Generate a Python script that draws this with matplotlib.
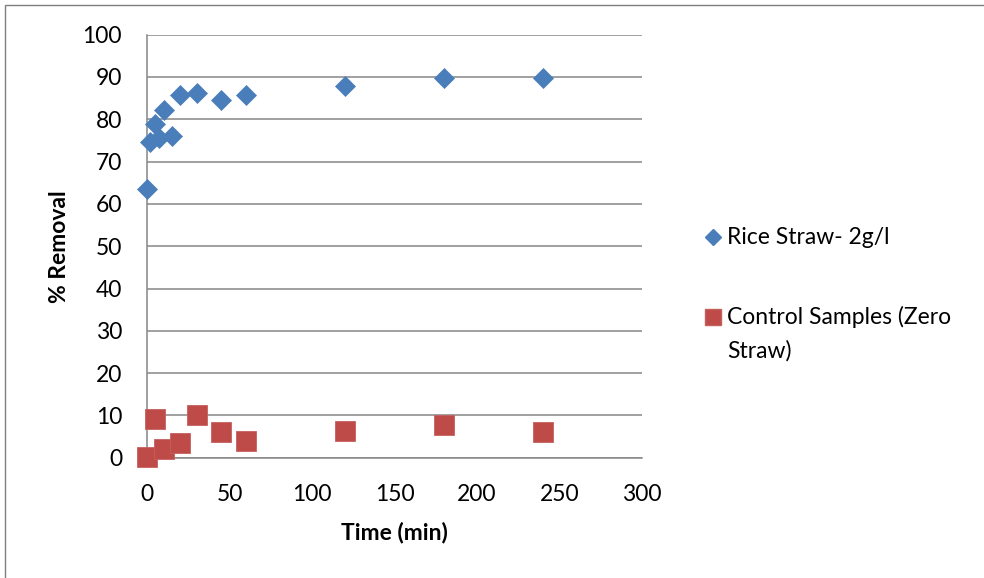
import matplotlib
matplotlib.use("Agg")
import matplotlib.pyplot as plt
from matplotlib.lines import Line2D
from matplotlib.patches import Rectangle

plt.rcParams['font.family'] = ['Lato', 'DejaVu Sans']

# Removal over contact time
rice_time = [0, 2, 5, 7, 10, 15, 20, 30, 45, 60, 120, 180, 240]
rice_removal = [63.5, 74.6, 78.9, 75.5, 82.2, 76.0, 85.7, 86.3, 84.6, 85.8, 87.9, 89.8, 89.8]

control_time = [0, 5, 10, 20, 30, 45, 60, 120, 180, 240]
control_removal = [0.2, 9.1, 2.1, 3.4, 10.0, 6.0, 3.9, 6.2, 7.7, 6.0]

x_ticks = [0, 50, 100, 150, 200, 250, 300]
y_ticks = [0, 10, 20, 30, 40, 50, 60, 70, 80, 90, 100]

blue = '#4A7EBB'
red = '#BE4B48'
grid = '#868686'
FS = 16.5

W, H = 984, 578
fig = plt.figure(figsize=(W / 100, H / 100), dpi=100)
ax = fig.add_axes([147 / W, 1 - 457.7 / H, (642 - 147) / W, (457.7 - 34.7) / H])

ax.set_xlim(0, 300)
ax.set_ylim(0, 100)
ax.set_xticks(x_ticks)
ax.set_yticks(y_ticks)
ax.tick_params(length=0, labelsize=FS, colors='black')
ax.tick_params(axis='y', pad=18)
ax.tick_params(axis='x', pad=19)

ax.yaxis.grid(True, color=grid, linewidth=1.1)
ax.set_axisbelow(True)
for side in ['top', 'right']:
    ax.spines[side].set_visible(False)
for side in ['left', 'bottom']:
    ax.spines[side].set_color(grid)
    ax.spines[side].set_linewidth(1.1)

ax.plot(rice_time, rice_removal, linestyle='none', marker='D', markersize=10.5,
        markerfacecolor=blue, markeredgecolor=blue, markeredgewidth=0.5,
        clip_on=False, zorder=3)
ax.plot(control_time, control_removal, linestyle='none', marker='s', markersize=14,
        markerfacecolor=red, markeredgecolor='#c5605d', markeredgewidth=0.6,
        clip_on=False, zorder=3)

ax.set_xlabel('Time (min)', fontsize=FS, fontweight='bold', labelpad=12)
ax.set_ylabel('% Removal', fontsize=FS, fontweight='bold', labelpad=9)

# Legend entries drawn in figure coordinates
fig.add_artist(Line2D([713 / W], [1 - 237 / H], marker='D', markersize=8,
                      markerfacecolor=blue, markeredgecolor=blue,
                      linestyle='none', transform=fig.transFigure))
fig.text(727 / W, 1 - 237 / H, 'Rice Straw- 2g/l', fontsize=FS,
         va='center', ha='left')
fig.add_artist(Line2D([713 / W], [1 - 317 / H], marker='s', markersize=12,
                      markerfacecolor=red, markeredgecolor='#c5605d',
                      linestyle='none', transform=fig.transFigure))
fig.text(727 / W, 1 - 317 / H, 'Control Samples (Zero', fontsize=FS,
         va='center', ha='left')
fig.text(727 / W, 1 - 351 / H, 'Straw)', fontsize=FS,
         va='center', ha='left')

# Chart frame
fig.add_artist(Rectangle((5 / W, -0.1), 1.2, 1 - 5 / H + 0.1, fill=False,
                         edgecolor='#7f7f7f', linewidth=1.0,
                         transform=fig.transFigure))

fig.savefig('out.png', dpi=100)
